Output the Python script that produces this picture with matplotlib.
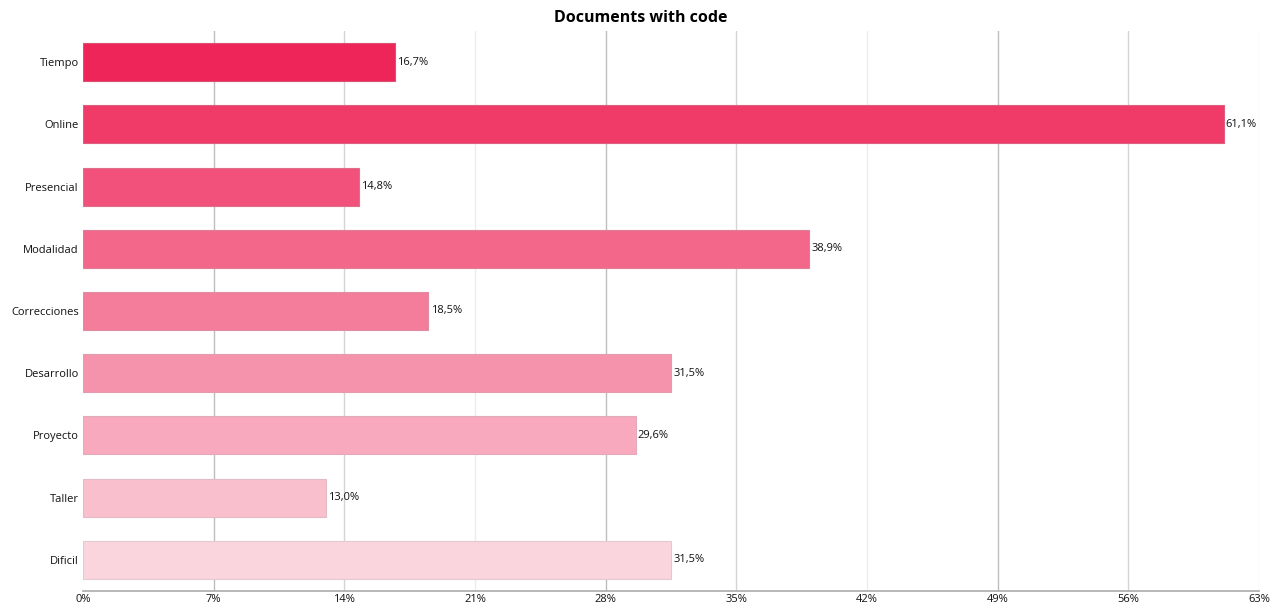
import matplotlib
import matplotlib.pyplot as plt
from matplotlib.colors import to_rgb

matplotlib.use("Agg")

categories = ["Tiempo", "Online", "Presencial", "Modalidad", "Correcciones",
              "Desarrollo", "Proyecto", "Taller", "Dificil"]
values = [16.7, 61.1, 14.8, 38.9, 18.5, 31.5, 29.6, 13.0, 31.5]
xticks = [0, 7, 14, 21, 28, 35, 42, 49, 56, 63]

plt.rcParams["font.family"] = ["Open Sans", "DejaVu Sans"]


def blend(c1, c2, t):
    a, b = to_rgb(c1), to_rgb(c2)
    return tuple(a[i] + (b[i] - a[i]) * t for i in range(3))


n = len(categories)
colors = [blend("#ee2558", "#fbd5de", i / (n - 1)) for i in range(n)]
edges = [blend(c, "#b0b0b0", 0.3) for c in colors]

fig = plt.figure(figsize=(12.81, 6.09), dpi=100)
ax = fig.add_axes([0.0648, 0.0296, 0.918, 0.9195])

# gridlines with alternating shades, like the original
grid_shades = ["#bdbdbd", "#d4d4d4", "#ececec"]
for i, t in enumerate(xticks[1:]):
    ax.axvline(t, color=grid_shades[i % 3], lw=1, zorder=0)

pos = list(range(n))
ax.barh(pos, values, height=0.61, color=colors, edgecolor=edges, linewidth=0.8, zorder=2)
for p, v in zip(pos, values):
    ax.text(v + 0.12, p, f"{v:.1f}%".replace(".", ","), va="center", ha="left",
            fontsize=8, color="#111111")

ax.set_ylim(n - 0.5, -0.5)
ax.set_xlim(0, 63)
ax.set_yticks(pos)
ax.set_yticklabels(categories, fontsize=8, color="#111111")
ax.set_xticks(xticks)
ax.set_xticklabels([f"{t}%" for t in xticks], fontsize=8, color="#111111")
ax.tick_params(length=0, pad=3)
ax.tick_params(axis="x", pad=2)

for s in ["top", "right", "left"]:
    ax.spines[s].set_visible(False)
ax.spines["bottom"].set_color("#aaaaaa")
ax.spines["bottom"].set_linewidth(1.2)

fig.text(0.5, 0.971, "Documents with code", ha="center", va="center",
         fontsize=11.5, fontweight="bold")

fig.savefig("out.png", dpi=100)
